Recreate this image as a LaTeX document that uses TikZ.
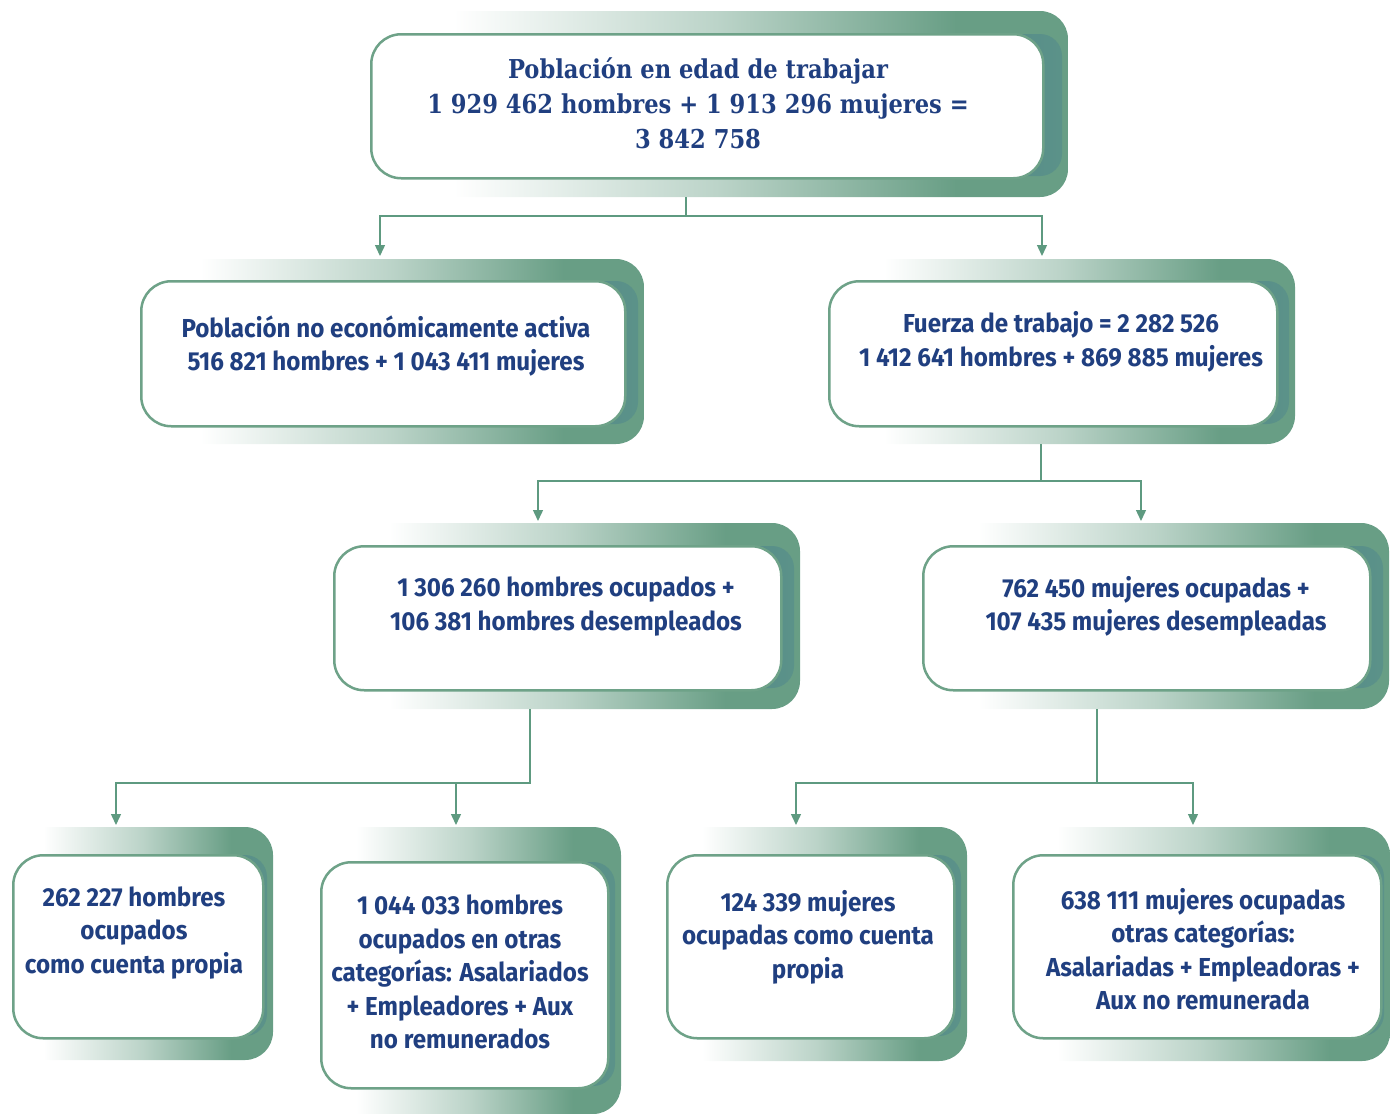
\documentclass[tikz,border=0pt]{standalone}
\usepackage{fontspec}
\setmainfont{Fira Sans}
\newfontfamily\boxfont[FakeStretch=0.93]{Fira Sans}
\newfontfamily\slabfont[FakeStretch=0.87]{DejaVu Serif}
\usetikzlibrary{arrows.meta}
\definecolor{gr}{HTML}{689E85}
\definecolor{bordergr}{HTML}{6EA288}
\definecolor{tealsh}{HTML}{568D8A}
\definecolor{linegr}{HTML}{5E9A80}
\definecolor{txtblue}{HTML}{203F80}
\pgfdeclarehorizontalshading{backshade}{100bp}{color(0bp)=(white); color(25bp)=(white); color(31bp)=(white); color(50bp)=(gr!45!white); color(67bp)=(gr); color(100bp)=(gr)}
\tikzset{
  wbox/.style={draw=bordergr, line width=2.5pt, fill=white, rounded corners=30pt, inner sep=0pt},
  txt/.style={text=txtblue, align=center, font=\boxfont\bfseries\fontsize{26}{33.5}\selectfont},
  toptxt/.style={text=txtblue, align=center, font=\slabfont\bfseries\fontsize{26}{35}\selectfont},
  arr/.style={draw=linegr, line width=1.4pt, -{Triangle[width=10pt,length=11pt]}},
}
% name, x1, y1, x2, y2, top offset, right offset, bottom offset
\newcommand\gbox[8]{%
  \shade[shading=backshade, rounded corners=28pt] (#2,#3-#6) rectangle (#4+#7,#5+#8);
  \shade[left color=tealsh, right color=tealsh!70!gr, rounded corners=22pt] (#4-40,#3+1) rectangle (#4+#7-6,#5-1);
  \node[wbox, minimum width=#4-#2, minimum height=#5-#3, anchor=north west] (#1) at (#2,#3) {};
}
\begin{document}
\begin{tikzpicture}[x=1pt,y=-1pt]
\useasboundingbox (0,0) rectangle (1390,1114);
\gbox{b1}{370}{33}{1042}{177}{22}{26}{20}
\gbox{b2}{140}{280}{624}{425}{21}{20}{19}
\gbox{b3}{828}{280}{1276}{425}{21}{19}{19}
\gbox{b4}{333}{545}{780}{689}{22}{20}{20}
\gbox{b5}{922}{545}{1369}{689}{22}{20}{20}
\gbox{b6}{12}{854}{262}{1037}{27}{11}{23}
\gbox{b7}{320}{861}{607}{1087}{34}{14}{27}
\gbox{b8}{666}{854}{953}{1037}{27}{14}{24}
\gbox{b9}{1012}{854}{1380}{1037}{27}{10}{24}

\node[toptxt] (t1) at (698,103) {Población en edad de trabajar\\1 929 462 hombres + 1 913 296 mujeres =\\3 842 758};
\node[txt] (t2) at (386,346) {Población no económicamente activa\\516 821 hombres + 1 043 411 mujeres};
\node[txt] (t3) at (1061,342) {Fuerza de trabajo = 2 282 526\\1 412 641 hombres + 869 885 mujeres};
\node[txt] (t4) at (566,606.5) {1 306 260 hombres ocupados +\\106 381 hombres desempleados};
\node[txt] (t5) at (1156,606.5) {762 450 mujeres ocupadas +\\107 435 mujeres desempleadas};
\node[txt] (t6) at (134,933) {262 227 hombres\\ocupados\\como cuenta propia};
\node[txt] (t7) at (460,972) {1 044 033 hombres\\ocupados en otras\\categorías: Asalariados\\+ Empleadores + Aux\\no remunerados};
\node[txt] (t8) at (808,937) {124 339 mujeres\\ocupadas como cuenta\\propia};
\node[txt] (t9) at (1203,949) {638 111 mujeres ocupadas\\otras categorías:\\Asalariadas + Empleadoras +\\Aux no remunerada};

\coordinate (s1) at (686,197); \coordinate (h1) at (686,216);
\coordinate (a2) at (380,256); \coordinate (a3) at (1042,256);
\coordinate (s3) at (1041,444); \coordinate (h3) at (1041,481);
\coordinate (a4) at (538,521); \coordinate (a5) at (1141,521);
\coordinate (s4) at (530,709); \coordinate (h4) at (530,783);
\coordinate (a6) at (116,825); \coordinate (a7) at (456,825);
\coordinate (s5) at (1097,709); \coordinate (h5) at (1097,783);
\coordinate (a8) at (796,825); \coordinate (a9) at (1193,825);

\draw[arr] (s1) -- (h1) -| (a2);
\draw[arr] (h1) -| (a3);
\draw[arr] (s3) -- (h3) -| (a4);
\draw[arr] (h3) -| (a5);
\draw[arr] (s4) -- (h4) -| (a6);
\draw[arr] (h4) -| (a7);
\draw[arr] (s5) -- (h5) -| (a8);
\draw[arr] (h5) -| (a9);
\end{tikzpicture}
\end{document}
